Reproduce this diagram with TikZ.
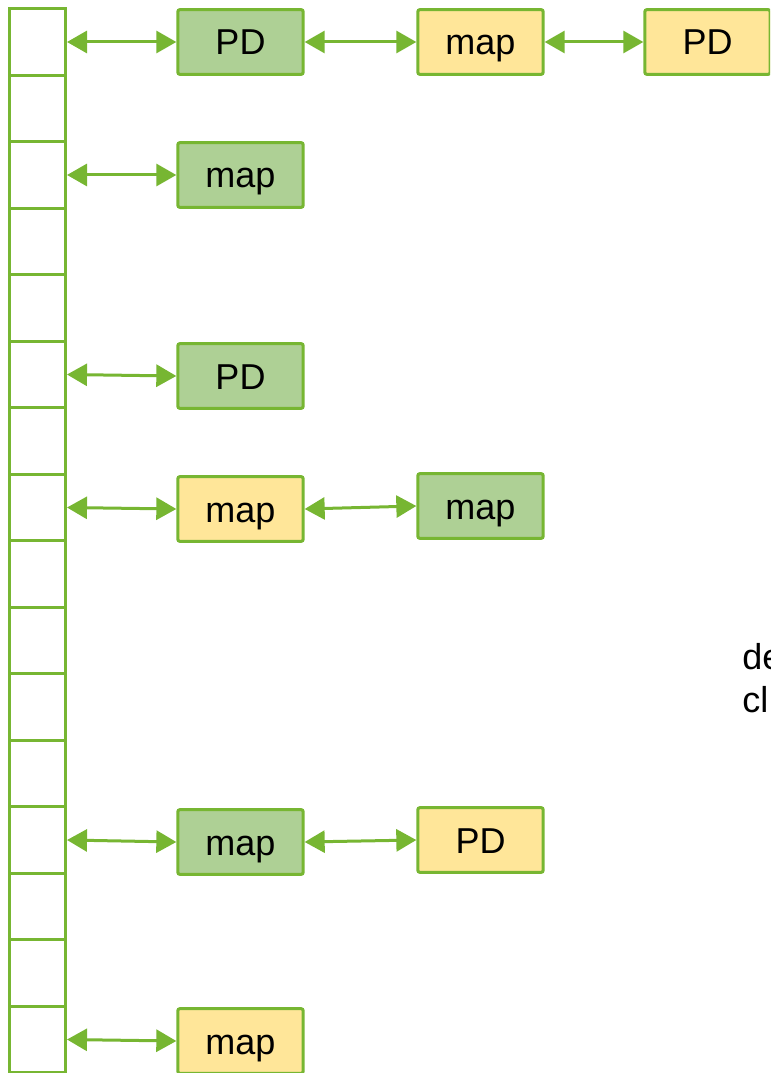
\documentclass[tikz,border=0pt]{standalone}
\usepackage{fontspec}
\setmainfont{Liberation Sans}
\usetikzlibrary{arrows.meta}
\definecolor{lineGreen}{HTML}{77B632}
\definecolor{fillGreen}{HTML}{AED095}
\definecolor{fillYellow}{HTML}{FFE699}
\tikzset{
  cell/.style={draw=lineGreen, line width=2.25pt, fill=white, inner sep=0pt,
    minimum width=42pt, minimum height=49.875pt},
  box/.style={draw=lineGreen, line width=2.25pt, rounded corners=1.5pt, inner sep=0pt,
    minimum width=94pt, minimum height=48.5pt, text height=22pt, text depth=2.5pt,
    font=\fontsize{27}{32}\selectfont},
  gbox/.style={box, fill=fillGreen},
  ybox/.style={box, fill=fillYellow},
  link/.style={draw=lineGreen, line width=2.25pt,
    {Triangle[length=15pt,width=16.5pt]}-{Triangle[length=15pt,width=16.5pt]}},
}
\begin{document}
\begin{tikzpicture}[x=0.75pt,y=-0.75pt]
\useasboundingbox (0,0) rectangle (770,1073);
\clip (0,0) rectangle (770,1073);
% table of slots
\foreach \i in {0,...,15}
  \node[cell] (c\i) at (37.5,{42+66.5*\i}) {};
% row 0
\node[gbox] (r0a) at (240.5,42) {PD};
\node[ybox] (r0b) at (480.5,42) {map};
\node[ybox] (r0c) at (707.5,42) {PD};
% row 2
\node[gbox] (r2a) at (240.5,175) {map};
% row 5
\node[gbox] (r5a) at (240.5,376) {PD};
% row 7
\node[ybox] (r7a) at (240.5,509) {map};
\node[gbox] (r7b) at (480.5,506) {map};
% row 12
\node[gbox] (r12a) at (240.5,842) {map};
\node[ybox] (r12b) at (480.5,840) {PD};
% row 15
\node[ybox] (r15a) at (240.5,1041) {map};
% links
\draw[link] (c0.east) -- (r0a.west);
\draw[link] (r0a.east) -- (r0b.west);
\draw[link] (r0b.east) -- (r0c.west);
\draw[link] (c2.east) -- (r2a.west);
\draw[link] (c5.east) -- (r5a.west);
\draw[link] (c7.east) -- (r7a.west);
\draw[link] (r7a.east) -- (r7b.west);
\draw[link] (c12.east) -- (r12a.west);
\draw[link] (r12a.east) -- (r12b.west);
\draw[link] (c15.east) -- (r15a.west);
% side note
\node[anchor=west, align=left, inner sep=0pt, font=\fontsize{27}{32}\selectfont]
  (note) at (742,678) {de\\cl};
\end{tikzpicture}
\end{document}
